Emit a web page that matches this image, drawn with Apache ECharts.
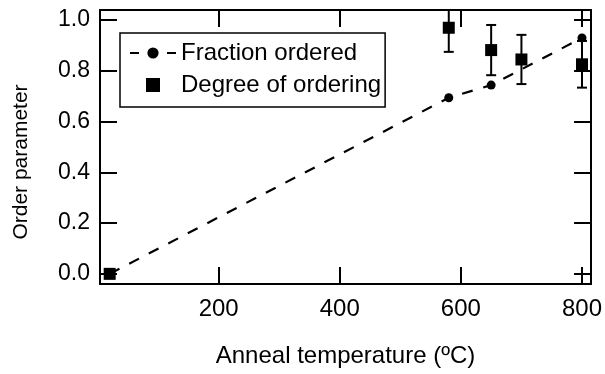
<!DOCTYPE html>
<html>
<head>
<meta charset="utf-8">
<script src="https://cdn.jsdelivr.net/npm/echarts@6/dist/echarts.min.js"></script>
<style>
	html, body { margin: 0; padding: 0; background: #fff; }
	#main { width: 605px; height: 374px; }
</style>
</head>
<body>
<div id="main"></div>
<script>
	var tempFraction = [20, 580, 650, 800];
	var fractionOrdered = [0.0, 0.694, 0.744, 0.93];

	var tempDegree = [20, 580, 650, 700, 800];
	var degreeOrdering = [0.0, 0.97, 0.882, 0.845, 0.826];
	var degreeError = [0.0, 0.095, 0.099, 0.097, 0.092];

	var xTicks = [200, 400, 600, 800];
	var yTicks = [0, 0.2, 0.4, 0.6, 0.8, 1.0];

	var FONT = "'Liberation Sans', Arial, sans-serif";

	function $each(arr, fn){
		for(var i = 0; i < arr.length; i++){
			fn(i, arr[i]);
		}
	}

	var fractionData = [];
	$each(tempFraction, function(i, t){
		fractionData.push([t, fractionOrdered[i]]);
	});
	var degreeData = [];
	var errorData = [];
	$each(tempDegree, function(i, t){
		degreeData.push([t, degreeOrdering[i]]);
		errorData.push([t, degreeOrdering[i] - degreeError[i], degreeOrdering[i] + degreeError[i]]);
	});

	function axisX(pos){
		return {
			type: 'value',
			position: pos,
			min: 4,
			max: 815,
			splitLine: {show: false},
			axisLine: {show: true, onZero: false, lineStyle: {color: '#000', width: 2}},
			axisTick: {show: true, inside: true, length: 17, customValues: xTicks, lineStyle: {color: '#000', width: 2}},
			axisLabel: {show: pos == 'bottom', customValues: xTicks, margin: 13, color: '#000', fontSize: 24, fontFamily: FONT}
		};
	}
	function axisY(pos){
		return {
			type: 'value',
			position: pos,
			min: -0.04,
			max: 1.04,
			splitLine: {show: false},
			axisLine: {show: true, onZero: false, lineStyle: {color: '#000', width: 2}},
			axisTick: {show: true, inside: true, length: 17, customValues: yTicks, lineStyle: {color: '#000', width: 2}},
			axisLabel: {
				show: pos == 'left', customValues: yTicks, margin: 10, color: '#000', fontSize: 23, fontFamily: FONT,
				formatter: function(v){ return v.toFixed(1); }
			}
		};
	}

	var xBottom = axisX('bottom');
	xBottom.name = 'Anneal temperature (\u00baC)';
	xBottom.nameLocation = 'middle';
	xBottom.nameGap = 60;
	xBottom.nameTextStyle = {color: '#000', fontSize: 24, fontFamily: FONT};

	var yLeft = axisY('left');
	yLeft.name = 'Order parameter';
	yLeft.nameLocation = 'middle';
	yLeft.nameGap = 68;
	// title sits a bit below the middle of the axis in the original
	yLeft.nameTextStyle = {color: '#000', fontSize: 21, fontFamily: FONT, padding: [0, 30, 0, 0]};

	var myChart = echarts.init(document.getElementById('main'), null, {renderer: 'canvas'});
	var option = {
		backgroundColor: '#fff',
		animation: false,
		grid: {left: 100, right: 13, top: 10, bottom: 90, containLabel: false},
		xAxis: [xBottom, axisX('top')],
		yAxis: [yLeft, axisY('right')],
		legend: {
			left: 120,
			top: 33,
			orient: 'vertical',
			align: 'left',
			padding: [8, 4, 10, 9],
			itemGap: 8,
			itemWidth: 46,
			itemHeight: 14,
			borderColor: '#000',
			borderWidth: 1.5,
			borderRadius: 0,
			backgroundColor: '#fff',
			textStyle: {color: '#000', fontSize: 24, fontFamily: FONT},
			data: [
				{name: 'Fraction ordered', lineStyle: {type: [9, 28]}},
				{name: 'Degree of ordering', icon: 'path://M0 0H10V10H0Z'}
			]
		},
		series: [
			{
				name: 'Fraction ordered',
				type: 'line',
				data: fractionData,
				symbol: 'circle',
				symbolSize: 9,
				itemStyle: {color: '#000', opacity: 1},
				lineStyle: {color: '#000', width: 2.2, type: [11, 11]},
				z: 3
			},
			{
				name: 'Degree of ordering',
				type: 'scatter',
				data: degreeData,
				symbol: 'rect',
				symbolSize: 12,
				itemStyle: {color: '#000', opacity: 1},
				z: 4
			},
			{
				name: 'errors',
				type: 'custom',
				data: errorData,
				clip: true,
				z: 2,
				renderItem: function(params, api){
					var x = api.value(0);
					var lo = api.coord([x, api.value(1)]);
					var hi = api.coord([x, api.value(2)]);
					var style = {stroke: '#000', lineWidth: 2, fill: null};
					if(lo[1] == hi[1]) {
						return null;
					}
					return {
						type: 'group',
						children: [
							{type: 'line', shape: {x1: lo[0], y1: lo[1], x2: hi[0], y2: hi[1]}, style: style},
							{type: 'line', shape: {x1: lo[0] - 5, y1: lo[1], x2: lo[0] + 5, y2: lo[1]}, style: style},
							{type: 'line', shape: {x1: hi[0] - 5, y1: hi[1], x2: hi[0] + 5, y2: hi[1]}, style: style}
						]
					};
				}
			}
		]
	};
	myChart.setOption(option);
</script>
</body>
</html>
